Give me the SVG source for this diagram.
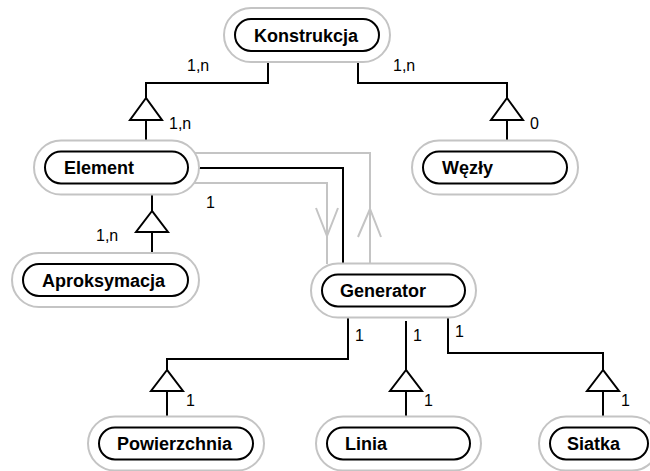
<svg xmlns="http://www.w3.org/2000/svg" width="650" height="471" viewBox="0 0 650 471">
  <style>
    .outer { fill: #ffffff; stroke: #c4c4c4; stroke-width: 2; }
    .inner { fill: #ffffff; stroke: #000000; stroke-width: 2; }
    .name { font-family: "Liberation Sans", Arial, sans-serif; font-weight: bold; font-size: 18px; fill: #000; }
    .card { font-family: "Liberation Sans", Arial, sans-serif; font-size: 16px; fill: #000; }
    .link { fill: none; stroke: #000; stroke-width: 2; }
    .flow { fill: none; stroke: #c4c4c4; stroke-width: 2; }
    .tri { fill: #fff; stroke: #000; stroke-width: 2; stroke-linejoin: miter; }
  </style>

  <!-- connectors -->
  <g id="connectors">
    <!-- Konstrukcja - Element -->
    <polyline class="link" points="268,62 268,83 146,83 146,98"/>
    <line class="link" x1="146" y1="120" x2="146" y2="141"/>
    <polygon class="tri" points="146,98 130,120 162,120"/>
    <text class="card" x="187" y="71">1,n</text>
    <text class="card" x="169" y="129">1,n</text>

    <!-- Konstrukcja - Węzły -->
    <polyline class="link" points="358,62 358,83 507,83 507,98"/>
    <line class="link" x1="507" y1="120" x2="507" y2="141"/>
    <polygon class="tri" points="507,98 491,120 523,120"/>
    <text class="card" x="393" y="71">1,n</text>
    <text class="card" x="530" y="129">0</text>

    <!-- Element - Aproksymacja -->
    <line class="link" x1="152" y1="194" x2="152" y2="211"/>
    <line class="link" x1="152" y1="232" x2="152" y2="253"/>
    <polygon class="tri" points="152,211 136,232 168,232"/>
    <text class="card" x="96" y="241">1,n</text>
    <text class="card" x="206" y="208">1</text>

    <!-- Element - Generator -->
    <polyline class="flow" points="192,153 370,153 370,264"/>
    <polyline class="flow" points="358,237 370,209 381,237"/>
    <polyline class="flow" points="192,183 327,183 327,264"/>
    <polyline class="flow" points="316,208 327,236 338,208"/>
    <polyline class="link" points="199,168 343,168 343,264"/>

    <!-- Generator - Powierzchnia -->
    <polyline class="link" points="348,318 348,359 167,359 167,370"/>
    <line class="link" x1="167" y1="391" x2="167" y2="417"/>
    <polygon class="tri" points="167,370 151,391 183,391"/>
    <text class="card" x="355" y="341">1</text>
    <text class="card" x="186" y="406">1</text>

    <!-- Generator - Linia -->
    <line class="link" x1="406" y1="321" x2="406" y2="370"/>
    <line class="link" x1="406" y1="391" x2="406" y2="417"/>
    <polygon class="tri" points="406,370 390,391 422,391"/>
    <text class="card" x="413" y="341">1</text>
    <text class="card" x="424" y="406">1</text>

    <!-- Generator - Siatka -->
    <polyline class="link" points="448,318 448,353 603,353 603,370"/>
    <line class="link" x1="603" y1="391" x2="603" y2="417"/>
    <polygon class="tri" points="603,370 587,391 619,391"/>
    <text class="card" x="455" y="337">1</text>
    <text class="card" x="621" y="406">1</text>
  </g>

  <!-- nodes -->
  <g id="konstrukcja">
    <rect class="outer" x="224" y="8" width="166" height="54" rx="27"/>
    <rect class="inner" x="235" y="19" width="144" height="32" rx="16"/>
    <text class="name" x="254" y="41.5">Konstrukcja</text>
  </g>

  <g id="element">
    <rect class="outer" x="34" y="140.5" width="165" height="54" rx="27"/>
    <rect class="inner" x="45" y="151.5" width="143" height="32" rx="16"/>
    <text class="name" x="64" y="174">Element</text>
  </g>

  <g id="wezly">
    <rect class="outer" x="412" y="140.5" width="166" height="54" rx="27"/>
    <rect class="inner" x="423" y="151.5" width="144" height="32" rx="16"/>
    <text class="name" x="442" y="174">Węzły</text>
  </g>

  <g id="aproksymacja">
    <rect class="outer" x="12" y="253" width="187" height="54" rx="27"/>
    <rect class="inner" x="23" y="264" width="165" height="32" rx="16"/>
    <text class="name" x="42" y="286.5">Aproksymacja</text>
  </g>

  <g id="generator">
    <rect class="outer" x="311" y="263.5" width="165" height="54" rx="27"/>
    <rect class="inner" x="322" y="274.5" width="143" height="32" rx="16"/>
    <text class="name" x="340" y="297">Generator</text>
  </g>

  <g id="powierzchnia">
    <rect class="outer" x="88" y="416.5" width="176" height="54" rx="27"/>
    <rect class="inner" x="99" y="427.5" width="154" height="32" rx="16"/>
    <text class="name" x="117" y="450">Powierzchnia</text>
  </g>

  <g id="linia">
    <rect class="outer" x="316" y="416.5" width="165" height="54" rx="27"/>
    <rect class="inner" x="327" y="427.5" width="143" height="32" rx="16"/>
    <text class="name" x="345" y="450">Linia</text>
  </g>

  <g id="siatka">
    <rect class="outer" x="539" y="416.5" width="120" height="54" rx="27"/>
    <rect class="inner" x="550" y="427.5" width="98" height="32" rx="16"/>
    <text class="name" x="567" y="450">Siatka</text>
  </g>
</svg>
